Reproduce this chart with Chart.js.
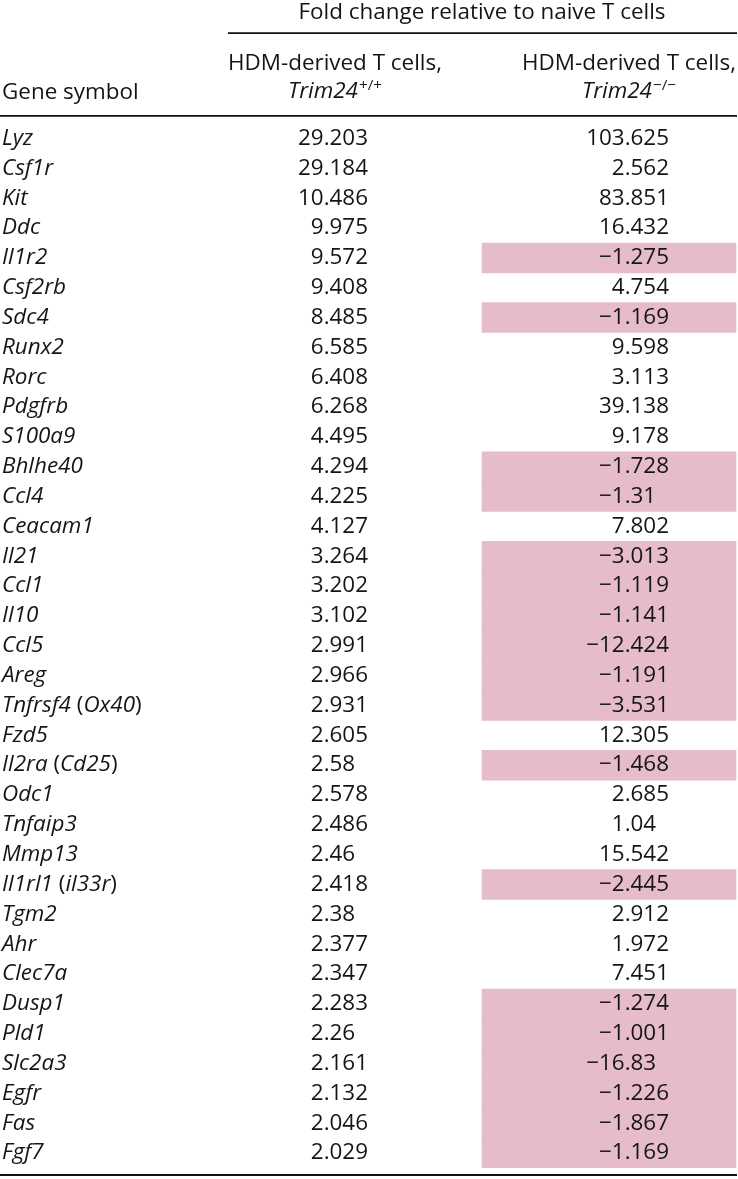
<!DOCTYPE html>
<html><head><meta charset="utf-8">
<script src="https://cdn.jsdelivr.net/npm/chart.js@4/dist/chart.umd.min.js"></script>
<style>html,body{margin:0;padding:0;background:#fff;overflow:hidden}#wrap{width:738px;height:1179px;position:relative}canvas{display:block}</style>
</head><body><div id="wrap"><canvas id="c" width="738" height="1179"></canvas></div>
<script>
// ---- data ----
const genes = ['Lyz','Csf1r','Kit','Ddc','Il1r2','Csf2rb','Sdc4','Runx2','Rorc','Pdgfrb','S100a9','Bhlhe40','Ccl4','Ceacam1','Il21','Ccl1','Il10','Ccl5','Areg','Tnfrsf4 (Ox40)','Fzd5','Il2ra (Cd25)','Odc1','Tnfaip3','Mmp13','Il1rl1 (il33r)','Tgm2','Ahr','Clec7a','Dusp1','Pld1','Slc2a3','Egfr','Fas','Fgf7'];
const foldWT = [29.203,29.184,10.486,9.975,9.572,9.408,8.485,6.585,6.408,6.268,4.495,4.294,4.225,4.127,3.264,3.202,3.102,2.991,2.966,2.931,2.605,2.58,2.578,2.486,2.46,2.418,2.38,2.377,2.347,2.283,2.26,2.161,2.132,2.046,2.029];
const foldKO = [103.625,2.562,83.851,16.432,-1.275,4.754,-1.169,9.598,3.113,39.138,9.178,-1.728,-1.31,7.802,-3.013,-1.119,-1.141,-12.424,-1.191,-3.531,12.305,-1.468,2.685,1.04,15.542,-2.445,2.912,1.972,7.451,-1.274,-1.001,-16.83,-1.226,-1.867,-1.169];
const titleText = 'Fold change relative to naive T cells';
const geneHeader = 'Gene symbol';
const colHeaders = ['HDM-derived T cells,','HDM-derived T cells,'];
const genotypeBase = ['Trim24','Trim24'];
const genotypeSup = ['+/+','\u2212/\u2212'];

// ---- layout ----
const W = 738, H = 1179;
const BODY_TOP = 123.6, BODY_BOTTOM = 1168;
const KO_CELL = [482, 736];
const COL_RIGHT = [368, 669];
const COL_CENTER = [335, 629];
const TITLE_CENTER = 482;
const FAMILY = '"Open Sans", "Noto Sans", sans-serif';
const INK = '#151515';
const PINK = '#e6bccb';

let FS = 17;
function font(style, size){ return (style||'') + ' ' + size.toFixed(2) + 'px ' + FAMILY; }

function drawGene(ctx, text, x, y){
  // italic gene symbols, upright parentheses
  const parts = text.split(/([()])/).filter(s=>s.length);
  let cx = x;
  for (const p of parts){
    const upright = (p === '(' || p === ')');
    ctx.font = font(upright ? 'normal' : 'italic', FS);
    ctx.textAlign = 'left';
    ctx.fillText(p, cx, y);
    cx += ctx.measureText(p).width + (upright ? 0 : 0);
  }
}
function fmt(v){ return String(v).replace('-', '\u2212'); }

const tablePlugin = {
  id: 'tableText',
  afterDatasetsDraw(chart){
    const ctx = chart.ctx;
    const ys = chart.scales.y;
    ctx.save();
    ctx.fillStyle = INK;
    ctx.textBaseline = 'alphabetic';
    // header title
    ctx.font = font('normal', FS);
    ctx.textAlign = 'center';
    ctx.fillText(titleText, TITLE_CENTER, 18.5);
    // column headers
    for (let c = 0; c < 2; c++){
      ctx.font = font('normal', FS);
      ctx.textAlign = 'center';
      ctx.fillText(colHeaders[c], COL_CENTER[c], 69.5);
      ctx.font = font('italic', FS);
      const bw = ctx.measureText(genotypeBase[c]).width;
      const sfs = FS * 0.68;
      ctx.font = font('normal', sfs);
      const sw = ctx.measureText(genotypeSup[c]).width;
      const x0 = COL_CENTER[c] - (bw + sw + 1) / 2;
      ctx.textAlign = 'left';
      ctx.font = font('italic', FS);
      ctx.fillText(genotypeBase[c], x0, 97.8);
      ctx.font = font('normal', sfs);
      ctx.fillText(genotypeSup[c], x0 + bw + 1, 89.5);
    }
    ctx.font = font('normal', FS);
    ctx.textAlign = 'left';
    ctx.fillText(geneHeader, 2, 98.5);
    // rows
    ctx.font = font('normal', FS);
    const d0 = ctx.measureText('0').width;
    for (let i = 0; i < genes.length; i++){
      const y = ys.getPixelForValue(i) + 6.3;
      drawGene(ctx, genes[i], 2, y);
      ctx.font = font('normal', FS);
      ctx.textAlign = 'right';
      const cols = [foldWT[i], foldKO[i]];
      for (let c = 0; c < 2; c++){
        const s = fmt(cols[c]);
        const dec = s.includes('.') ? s.split('.')[1].length : 0;
        ctx.fillText(s, COL_RIGHT[c] - (3 - dec) * d0, y);
      }
    }
    // rules
    ctx.strokeStyle = '#111';
    ctx.lineWidth = 1.8;
    const rule = (x1, x2, y) => { ctx.beginPath(); ctx.moveTo(x1, y); ctx.lineTo(x2, y); ctx.stroke(); };
    rule(228, 737, 33.2);
    rule(0, 737, 115.8);
    rule(0, 737, 1175);
    ctx.restore();
  }
};

function start(){
  const c = document.getElementById('c');
  const ctx = c.getContext('2d');
  ctx.font = font('normal', 100);
  const w100 = ctx.measureText(colHeaders[0]).width;
  FS = 100 * 214 / w100;
  new Chart(c, {
    type: 'bar',
    data: {
      labels: genes,
      datasets: [{
        data: foldKO.map(v => v < 0 ? [KO_CELL[0], KO_CELL[1]] : null),
        backgroundColor: PINK,
        borderWidth: 0,
        barPercentage: 1,
        categoryPercentage: 1
      }]
    },
    options: {
      indexAxis: 'y',
      responsive: false,
      animation: false,
      events: [],
      layout: { padding: { top: BODY_TOP, bottom: H - BODY_BOTTOM, left: 0, right: W - 737 } },
      scales: {
        x: { type: 'linear', min: 0, max: 737, display: false },
        y: { type: 'category', display: false, offset: true }
      },
      plugins: { legend: { display: false }, tooltip: { enabled: false } }
    },
    plugins: [tablePlugin]
  });
}
const fontLoads = ['normal 17px "Open Sans"', 'italic 17px "Open Sans"'].map(f => document.fonts.load(f).catch(()=>{}));
Promise.all(fontLoads).then(start, start);
</script>
</body></html>
